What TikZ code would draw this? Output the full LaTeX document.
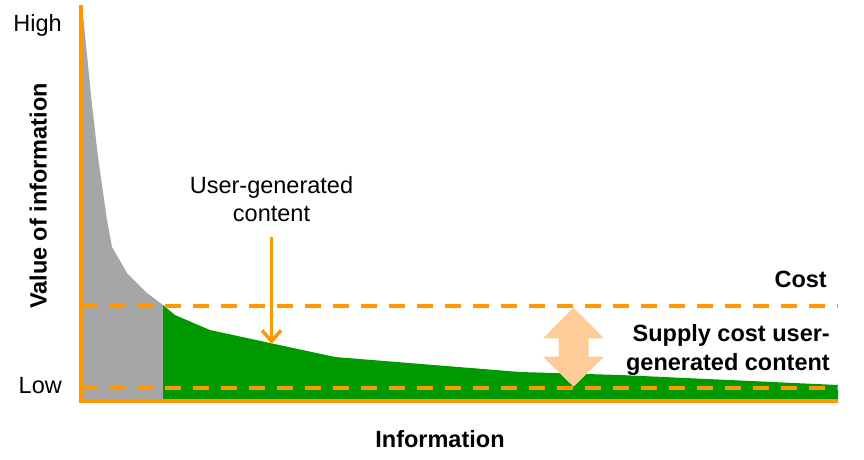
\documentclass[tikz,border=0pt]{standalone}
\usepackage{fontspec}
\setmainfont{Liberation Sans}
\usepackage{xcolor}
\usetikzlibrary{arrows.meta}

\definecolor{axisorange}{HTML}{FF9900}
\definecolor{tailgray}{HTML}{A6A6A6}
\definecolor{ugcgreen}{HTML}{009900}
\definecolor{gappeach}{HTML}{FFCC99}

\begin{document}
\begin{tikzpicture}[x=1pt, y=-1pt,
    every node/.style={inner sep=0pt, font=\fontsize{23.5}{28}\selectfont},
    bold/.style={font=\fontsize{23.5}{29}\selectfont\bfseries},
    axis/.style={draw=axisorange, line width=4pt},
    level/.style={draw=axisorange, line width=4pt, dash pattern=on 16pt off 12pt},
    pointer/.style={draw=axisorange, line width=3.5pt, -{Straight Barb[length=11pt, width=19pt]}}]
    \useasboundingbox (0,0) rectangle (864,460);
    % areas under the curve
    \fill[tailgray] (81,401) -- (82,5) -- (91.5,100) -- (98,157) -- (106.5,217) -- (112,247)
        -- (127,273) -- (147,293) -- (163,305) -- (163,401) -- cycle;
    \fill[ugcgreen] (163,401) -- (163,305) -- (175,315) -- (210,330) -- (270,343) -- (335,357)
        -- (520,372) -- (620,375) -- (838,385) -- (838,401) -- cycle;
    % cost levels
    \coordinate (costl) at (81,305.5);
    \coordinate (costr) at (838,305.5);
    \coordinate (lowl) at (81,387.5);
    \coordinate (lowr) at (838,387.5);
    \draw[level] (costl) -- (costr);
    \draw[level] (lowl) -- (lowr);
    % gap between the levels
    \fill[gappeach] (573.5,307.5) -- (604,338.3) -- (588.5,338.3) -- (588.5,356.7) -- (604,356.7)
        -- (573.5,386.7) -- (543,356.7) -- (558.5,356.7) -- (558.5,338.3) -- (543,338.3) -- cycle;
    % axes
    \coordinate (top) at (81,5);
    \coordinate (origin) at (81,401);
    \coordinate (right) at (838,401);
    \draw[axis] (top) -- (origin) -- (right);
    % labels
    \node (high) [anchor=base east] at (62,32) {High};
    \node (low) [anchor=base east] at (62,393) {Low};
    \node (value) [bold, anchor=base, rotate=90] at (46.5,196) {Value of information};
    \node (info) [bold, anchor=base] at (440,447.5) {Information};
    \node (cost) [bold, anchor=base east] at (827,287) {Cost};
    \node (supply) [bold, anchor=north east, align=right] at (830,324.5) {Supply cost user-\\generated content};
    \node (ugc) [anchor=north, align=center] at (271.5,176.5) {User-generated\\content};
    \coordinate (ugctip) at (271.5,344);
    \draw[pointer] ([yshift=-15pt]ugc.south) -- (ugctip);
\end{tikzpicture}
\end{document}
